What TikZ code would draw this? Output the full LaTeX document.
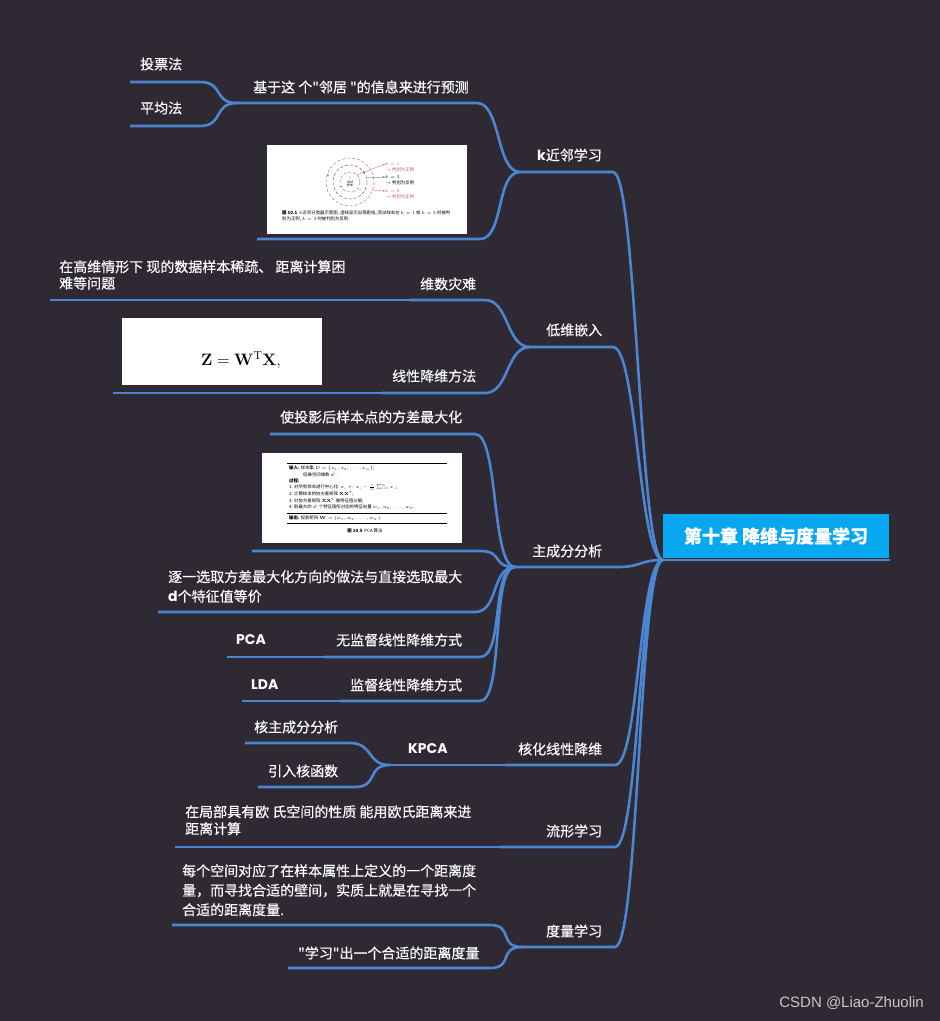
\RequirePackage{fix-cm}
\documentclass[tikz,border=0pt]{standalone}
\usepackage{amsmath}
\usepackage[no-math]{fontspec}
\setmainfont{Noto Sans CJK SC}
\newfontfamily\cjkfont{Noto Sans CJK SC}[FakeBold=0.35]
\newfontfamily\latfont{Poppins}
\newfontfamily\wmfont{Liberation Sans}
\usetikzlibrary{arrows.meta,positioning}
\definecolor{bgdark}{RGB}{47,41,52}
\definecolor{lineblue}{RGB}{74,134,210}
\definecolor{rootblue}{RGB}{8,168,240}
\definecolor{figred}{RGB}{205,85,85}
\definecolor{wmgrey}{RGB}{200,200,200}
\newcommand{\lat}[1]{{\latfont\bfseries #1}}

\begin{document}
\begin{tikzpicture}[x=1pt,y=-1pt,
line/.style={draw=lineblue,line width=2.6pt},
br/.style={to path={.. controls +(24,0) and +(-24,0) .. (\tikztotarget)}},
lbl/.style={text=white,inner sep=0pt,anchor=west,align=left,font=\cjkfont\fontsize{14}{19.5}\selectfont},
pic/.style={fill=white,inner sep=0pt,anchor=north west},
tiny/.style={inner sep=0pt,anchor=west,align=left,font=\fontsize{4.4}{5.5}\selectfont}]
\fill[bgdark] (0,0) rectangle (940,1021);
\useasboundingbox (0,0) rectangle (940,1021);

% root
\node[fill=rootblue,text=white,minimum width=226pt,minimum height=44pt,inner sep=0pt,
  font=\cjkfont\bfseries\fontsize{18}{20}\selectfont] (root) at (776,536) {第十章 降维与度量学习};
\coordinate (r0) at (663,560);
\coordinate (r1) at (890,560);
\draw[line] (r0) -- (r1);

% k nearest neighbours
\coordinate (voteL) at (130,82); \coordinate (voteR) at (200,82);
\coordinate (avgL) at (130,126); \coordinate (avgR) at (200,126);
\coordinate (predL) at (237,103); \coordinate (predR) at (477,103);
\coordinate (kfigL) at (257,239); \coordinate (kfigR) at (480,239);
\coordinate (knnL) at (520,172); \coordinate (knnR) at (613,172);
\draw[line] (voteL) -- (voteR) to[br] (predL);
\draw[line] (avgL) -- (avgR) to[br] (predL);
\draw[line] (predL) -- (predR) to[br] (knnL);
\draw[line] (kfigL) -- (kfigR) to[br] (knnL);
\draw[line] (knnL) -- (knnR) to[br] (r0);

% low dimensional embedding
\coordinate (cursTL) at (50,300); \coordinate (cursL) at (410,300); \coordinate (cursR) at (485,300);
\coordinate (zL) at (113,393); \coordinate (linL) at (382,393); \coordinate (linR) at (485,393);
\coordinate (lowL) at (530,347); \coordinate (lowR) at (613,347);
\draw[line] (cursTL) -- (cursL);
\draw[line] (cursL) -- (cursR) to[br] (lowL);
\draw[line] (zL) -- (linL);
\draw[line] (linL) -- (linR) to[br] (lowL);
\draw[line] (lowL) -- (lowR) to[br] (r0);

% principal component analysis
\coordinate (varL) at (270,434); \coordinate (varR) at (475,434);
\coordinate (pfigL) at (252,551); \coordinate (pfigR) at (480,551);
\coordinate (seqL) at (158,612); \coordinate (seqR) at (475,612);
\coordinate (pcaxL) at (227,657); \coordinate (unsL) at (325,657); \coordinate (unsR) at (480,657);
\coordinate (ldaxL) at (242,701); \coordinate (supL) at (340,701); \coordinate (supR) at (480,701);
\coordinate (pcaL) at (515,567); \coordinate (pcaR) at (618,567);
\draw[line] (varL) -- (varR) to[br] (pcaL);
\draw[line] (pfigL) -- (pfigR) to[br] (pcaL);
\draw[line] (seqL) -- (seqR) to[br] (pcaL);
\draw[line] (pcaxL) -- (unsL);
\draw[line] (unsL) -- (unsR) to[br] (pcaL);
\draw[line] (ldaxL) -- (supL);
\draw[line] (supL) -- (supR) to[br] (pcaL);
\draw[line] (pcaL) -- (pcaR) to[br] (r0);

% kernelized
\coordinate (kpcL) at (245,743); \coordinate (kpcR) at (350,743);
\coordinate (kfunL) at (258,787); \coordinate (kfunR) at (355,787);
\coordinate (kpcaL) at (390,765); \coordinate (kerL) at (505,765); \coordinate (kerR) at (615,765);
\draw[line] (kpcL) -- (kpcR) to[br] (kpcaL);
\draw[line] (kfunL) -- (kfunR) to[br] (kpcaL);
\draw[line] (kpcaL) -- (kerL);
\draw[line] (kerL) -- (kerR) to[br] (r0);

% manifold
\coordinate (manTL) at (175,847); \coordinate (manL) at (500,847); \coordinate (manR) at (615,847);
\draw[line] (manTL) -- (manL);
\draw[line] (manL) -- (manR) to[br] (r0);

% metric learning
\coordinate (eachL) at (172,925); \coordinate (eachR) at (490,925);
\coordinate (learnL) at (288,968); \coordinate (learnR) at (490,968);
\coordinate (metL) at (522,947); \coordinate (metR) at (615,947);
\draw[line] (eachL) -- (eachR) to[br] (metL);
\draw[line] (learnL) -- (learnR) to[br] (metL);
\draw[line] (metL) -- (metR) to[br] (r0);

% labels
\node[lbl] (vote) at (140,64) {投票法};
\node[lbl] (avg) at (140,108) {平均法};
\node[lbl] (pred) at (253,87) {基于这 个"邻居 "的信息来进行预测};
\node[lbl] (knn) at (537,155) {\lat{k}近邻学习};
\node[lbl,anchor=north west,font=\cjkfont\fontsize{14}{16.5}\selectfont] (cursT) at (59,260) {在高维情形下 现的数据样本稀疏、 距离计算困\\难等问题};
\node[lbl] (curse) at (420,284) {维数灾难};
\node[lbl] (low) at (546,330) {低维嵌入};
\node[lbl] (lin) at (392,376) {线性降维方法};
\node[lbl] (var) at (280,417) {使投影后样本点的方差最大化};
\node[lbl] (pca) at (532,551) {主成分分析};
\node[lbl,anchor=north west] (seq) at (168,570) {逐一选取方差最大化方向的做法与直接选取最大\\\lat{d}个特征值等价};
\node[lbl] (pcax) at (236,640) {\lat{PCA}};
\node[lbl] (unsup) at (336,640) {无监督线性降维方式};
\node[lbl] (ldax) at (251,685) {\lat{LDA}};
\node[lbl] (sup) at (350,685) {监督线性降维方式};
\node[lbl] (kpc) at (254,727) {核主成分分析};
\node[lbl] (kpcax) at (408,749) {\lat{KPCA}};
\node[lbl] (ker) at (518,749) {核化线性降维};
\node[lbl] (kfun) at (268,771) {引入核函数};
\node[lbl,anchor=north west,font=\cjkfont\fontsize{14}{17}\selectfont] (manT) at (185,805) {在局部具有欧 氏空间的性质 能用欧氏距离来进\\距离计算};
\node[lbl] (man) at (546,831) {流形学习};
\node[lbl,anchor=north west] (each) at (182,864) {每个空间对应了在样本属性上定义的一个距离度\\量，而寻找合适的壁间，实质上就是在寻找一个\\合适的距离度量.};
\node[lbl] (metric) at (546,931) {度量学习};
\node[lbl] (learn) at (298,953) {"学习"出一个合适的距离度量};
\node[text=wmgrey,inner sep=0pt,anchor=east,font=\wmfont\fontsize{15}{18}\selectfont] (wm) at (924,1003) {CSDN @Liao-Zhuolin};

% k-NN figure
\node[pic,minimum width=200pt,minimum height=89pt] (knnfig) at (267,145) {};
\coordinate (kc) at (350,182);
\draw[figred,densely dashed,line width=0.4pt] (kc) circle[radius=24];
\draw[black!70,densely dashed,line width=0.4pt] (kc) circle[radius=17];
\draw[figred,densely dashed,line width=0.4pt] (kc) circle[radius=10];
\node[tiny,anchor=center,align=center,font=\fontsize{3}{3.5}\selectfont] (ktest) at (kc) {?\\测试\\样本};
\node[tiny,anchor=center] (p1) at (328,176) {+};
\node[tiny,anchor=center] (p2) at (341,187) {$-$};
\node[tiny,anchor=center] (p3) at (364,173) {+};
\node[tiny,anchor=center] (p4) at (360,190) {$-$};
\node[tiny,text=figred] (k1) at (385,164) {$k=1$};
\node[tiny,text=figred] (k1t) at (385,170) {$\rightarrow$ 判别为正例};
\node[tiny] (k3) at (385,177) {$k=3$};
\node[tiny] (k3t) at (385,183) {$\rightarrow$ 判别为反例};
\node[tiny,text=figred] (k5) at (385,191) {$k=5$};
\node[tiny,text=figred] (k5t) at (385,197) {$\rightarrow$ 判别为正例};
\draw[figred,-{Stealth[length=2pt]},line width=0.3pt] ([shift={(7,-7)}]kc) -- (k1.west);
\draw[black!70,-{Stealth[length=2pt]},line width=0.3pt] ([shift={(16,-4)}]kc) -- (k3.west);
\draw[figred,-{Stealth[length=2pt]},line width=0.3pt] ([shift={(22,8)}]kc) -- (k5.west);
\node[tiny,anchor=north west] (kcap) at (282,211) {{\bfseries 图 10.1}\ \ $k$近邻分类器示意图. 虚线显示出等距线; 测试样本在 $k=1$ 或 $k=5$ 时被判\\别为正例, $k=3$ 时被判别为反例.};

% linear projection formula
\node[pic,minimum width=200pt,minimum height=67pt] (zfig) at (122,318) {};
\node[inner sep=0pt,font=\fontsize{16.5}{19}\selectfont] (zform) at (241,360) {$\mathbf{Z}=\mathbf{W}^{\mathrm{T}}\mathbf{X},$};

% PCA algorithm figure
\node[pic,minimum width=200pt,minimum height=90pt] (pcafig) at (262,453) {};
\coordinate (ru1) at (287,463); \coordinate (ru1e) at (447,463);
\coordinate (ru2) at (287,513); \coordinate (ru2e) at (447,513);
\coordinate (ru3) at (287,523); \coordinate (ru3e) at (447,523);
\draw[line width=0.5pt] (ru1) -- (ru1e);
\draw[line width=0.3pt] (ru2) -- (ru2e);
\draw[line width=0.5pt] (ru3) -- (ru3e);
\node[tiny] (pin) at (289,468.5) {{\bfseries 输入:} 样本集 $D=\{x_1,x_2,\ldots,x_m\}$;};
\node[tiny] (pin2) at (303,475) {低维空间维数 $d'$.};
\node[tiny] (pproc) at (289,481) {{\bfseries 过程:}};
\node[tiny] (ps1) at (289,487.5) {1: 对所有样本进行中心化: $x_i\leftarrow x_i-\tfrac{1}{m}\sum_{i=1}^{m}x_i$;};
\node[tiny] (ps2) at (289,494) {2: 计算样本的协方差矩阵 $\mathbf{X}\mathbf{X}^{\mathrm{T}}$;};
\node[tiny] (ps3) at (289,500.5) {3: 对协方差矩阵 $\mathbf{X}\mathbf{X}^{\mathrm{T}}$ 做特征值分解;};
\node[tiny] (ps4) at (289,507.5) {4: 取最大的 $d'$ 个特征值所对应的特征向量 $w_1,w_2,\ldots,w_{d'}$.};
\node[tiny] (pout) at (289,518) {{\bfseries 输出:} 投影矩阵 $\mathbf{W}=(w_1,w_2,\ldots,w_{d'})$.};
\node[tiny,anchor=center] (pcap) at (365,531) {{\bfseries 图 10.5}\ \ PCA 算法};
\end{tikzpicture}
\end{document}
